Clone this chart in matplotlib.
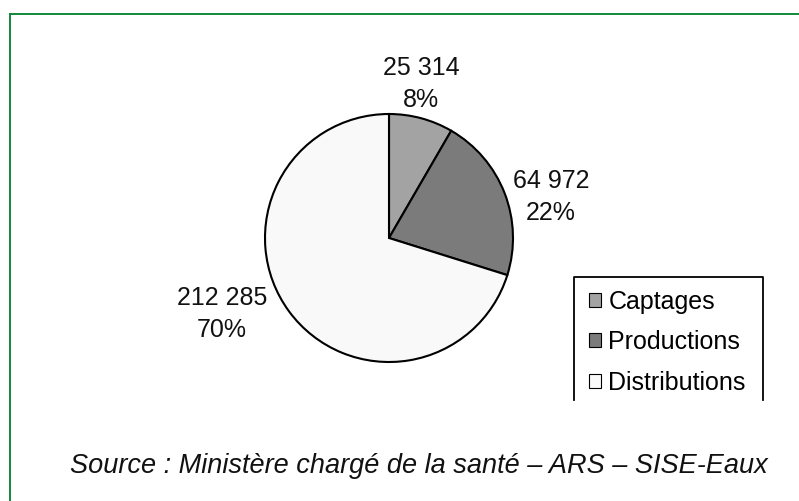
import matplotlib
matplotlib.use("Agg")
import matplotlib.pyplot as plt
from matplotlib.patches import Patch

# Data
categories = ["Captages", "Productions", "Distributions"]
counts = [25314, 64972, 212285]
pct_labels = ["8%", "22%", "70%"]
colors = ["#a3a3a3", "#7b7b7b", "#f9f9f9"]
source_text = "Source : Ministère chargé de la santé – ARS – SISE-Eaux"

# Layout (image pixel coords, y measured from top)
W, H = 799, 501
CENTER = (389, 238)
RADIUS = 124
LABEL_XY = [(421, 84), (551, 197), (222, 314)]
FONT = "Liberation Sans"


def Y(y):
    return H - y


fig = plt.figure(figsize=(W / 100, H / 100), dpi=100)
ax = fig.add_axes([0, 0, 1, 1])

# Green frame of the figure box
ax.plot([10, W + 5], [Y(14), Y(14)], color="#12883a", lw=1.4)
ax.plot([10, 10], [Y(14), -5], color="#12883a", lw=1.4)

# Pie
ax.pie(counts, colors=colors, startangle=90, counterclock=False,
       center=(CENTER[0], Y(CENTER[1])), radius=RADIUS, frame=True,
       wedgeprops=dict(edgecolor="black", linewidth=1.5))
ax.set_xlim(0, W)
ax.set_ylim(0, H)
ax.set_aspect("auto")
ax.axis("off")

# Value labels
for (x, y), n, p in zip(LABEL_XY, counts, pct_labels):
    txt = f"{n:,}".replace(",", " ") + "\n" + p
    ax.text(x, Y(y), txt, ha="center", va="center", fontsize=18,
            family=FONT, linespacing=1.38, color="#111111")

# Legend (box open at the bottom, like the reference)
handles = [Patch(facecolor=c, edgecolor="black", linewidth=0.8) for c in colors]
leg = ax.legend(handles, categories, loc="upper left",
                bbox_to_anchor=(576 / W, 1 - 277 / H), frameon=False,
                prop=dict(family=FONT, size=18), handlelength=0.5,
                handleheight=0.5, handletextpad=0.3, labelspacing=0.66,
                borderpad=0)
ax.plot([574, 574, 763, 763], [Y(400), Y(277), Y(277), Y(400)],
        color="black", lw=1.3)

# Source note
ax.text(419, Y(466), source_text, ha="center", va="center", fontsize=19.5,
        family=FONT, style="italic", color="#111111")

fig.savefig("out.png", dpi=100)
